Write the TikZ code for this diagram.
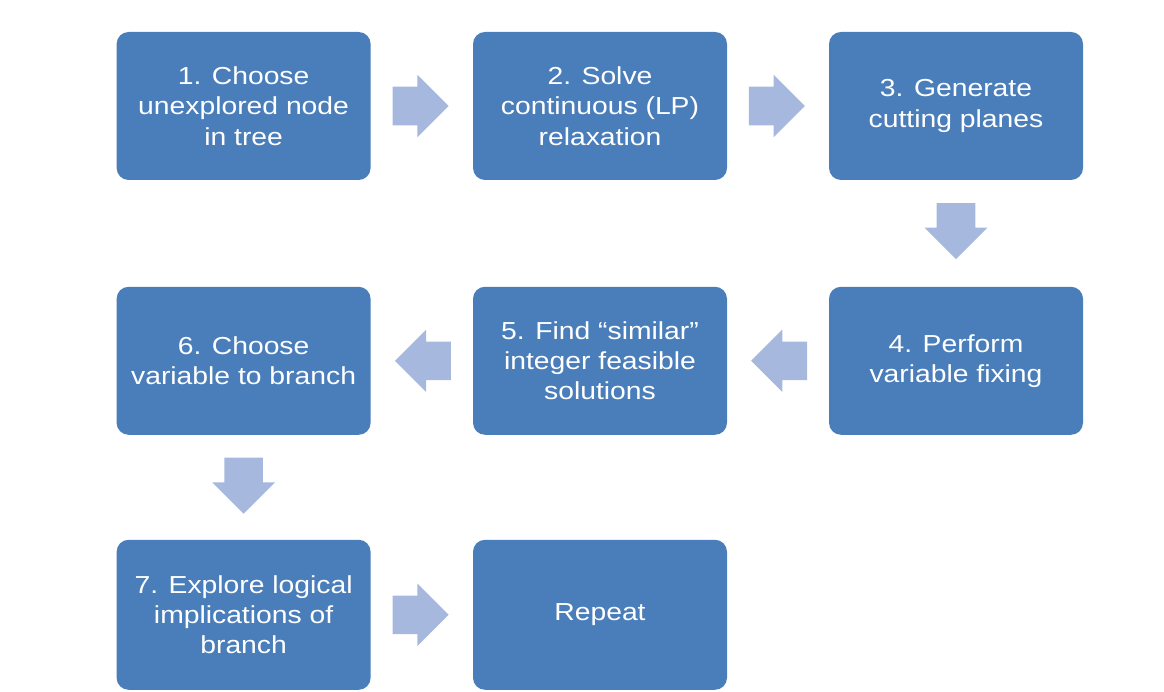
\documentclass[tikz,border=0pt]{standalone}
\usepackage{fontspec}
\setmainfont{Liberation Sans}[FakeStretch=1.15]
\usetikzlibrary{shapes.arrows,calc}

\definecolor{boxblue}{HTML}{4A7EBB}
\definecolor{arrowblue}{HTML}{A6B8DE}

\tikzstyle{step box} = [rectangle,rounded corners=0.3cm,fill=boxblue,text=white,
	minimum width=6.35cm,minimum height=3.7cm,align=center,
	font=\fontsize{17.5}{21.5}\selectfont]
\tikzstyle{block arrow} = [single arrow,fill=arrowblue,inner xsep=0pt,inner ysep=0.475cm,
	minimum height=1.4cm,single arrow head extend=0.3cm,single arrow head indent=0pt]

\begin{document}
\begin{tikzpicture}
	\useasboundingbox (0,0) rectangle (29.1,17.3);
	\node[step box] (s1) at (6.09,14.65) {1. Choose\\unexplored node\\in tree};
	\node[step box] (s2) at (15,14.65) {2. Solve\\continuous (LP)\\relaxation};
	\node[step box] (s3) at (23.9,14.65) {3. Generate\\cutting planes};
	\node[step box] (s4) at (23.9,8.28) {4. Perform\\variable fixing};
	\node[step box] (s5) at (15,8.28) {5. Find “similar”\\integer feasible\\solutions};
	\node[step box] (s6) at (6.09,8.28) {6. Choose\\variable to branch};
	\node[step box,minimum height=3.75cm] (s7) at (6.09,1.93) {7. Explore logical\\implications of\\branch};
	\node[step box,minimum height=3.75cm] (s8) at (15,1.93) {Repeat};
	\node[block arrow,xshift=-0.27cm] (a12) at ($(s1.east)!0.5!(s2.west)$) {};
	\node[block arrow,xshift=-0.27cm] (a23) at ($(s2.east)!0.5!(s3.west)$) {};
	\node[block arrow,rotate=-90,xshift=-0.3cm] (a34) at ($(s3.south)!0.5!(s4.north)$) {};
	\node[block arrow,rotate=180,xshift=-0.27cm] (a45) at ($(s4.west)!0.5!(s5.east)$) {};
	\node[block arrow,rotate=180,xshift=-0.27cm] (a56) at ($(s5.west)!0.5!(s6.east)$) {};
	\node[block arrow,rotate=-90,xshift=-0.28cm] (a67) at ($(s6.south)!0.5!(s7.north)$) {};
	\node[block arrow,xshift=-0.27cm] (a78) at ($(s7.east)!0.5!(s8.west)$) {};
\end{tikzpicture}
\end{document}
